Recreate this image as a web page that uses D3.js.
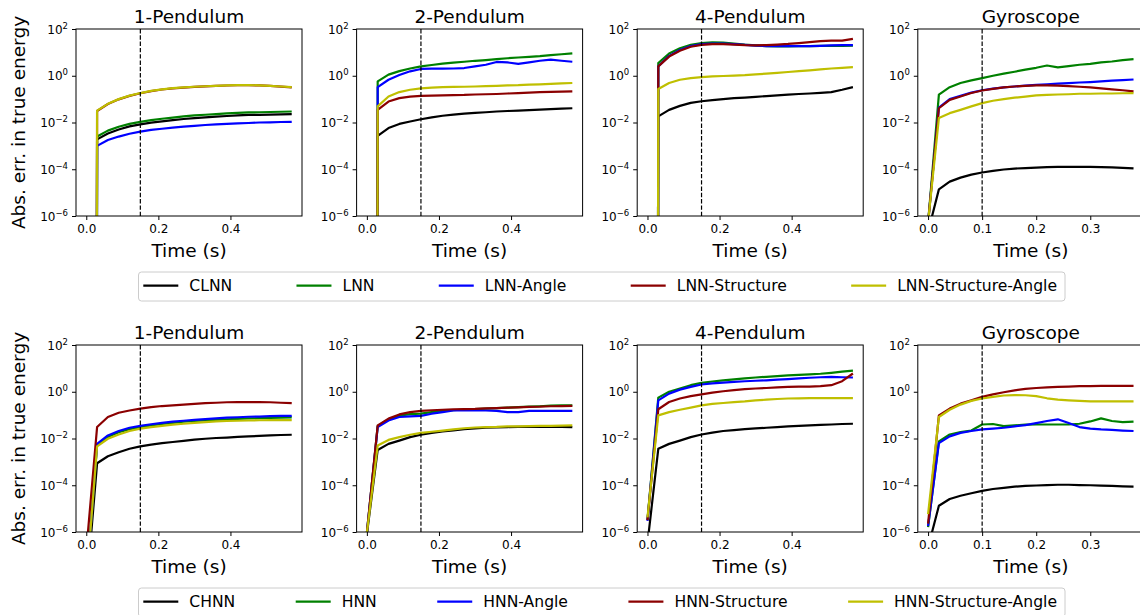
<!DOCTYPE html>
<html>
<head>
<meta charset="utf-8">
<script src="https://cdn.jsdelivr.net/npm/d3@7"></script>
<style>
  body { margin: 0; background: #fff; }
  svg text { font-family: "DejaVu Sans", sans-serif; fill: #000; }
</style>
</head>
<body>
<svg id="chart" width="1140" height="615"></svg>
<script>
// time grids (s)
const pendTime = [0, 0.03, 0.06, 0.09, 0.12, 0.15, 0.18, 0.21, 0.24, 0.27, 0.30, 0.33, 0.36, 0.39, 0.42, 0.45, 0.48, 0.51, 0.54, 0.57];
const gyroTime = [0, 0.02, 0.04, 0.06, 0.08, 0.10, 0.12, 0.14, 0.16, 0.18, 0.20, 0.22, 0.24, 0.26, 0.28, 0.30, 0.32, 0.34, 0.36, 0.38];

const panelTitles = ["1-Pendulum", "2-Pendulum", "4-Pendulum", "Gyroscope"];
const cutoffTimes = [0.15, 0.15, 0.15, 0.1];
const lnnNames = ["CLNN", "LNN", "LNN-Angle", "LNN-Structure", "LNN-Structure-Angle"];
const hnnNames = ["CHNN", "HNN", "HNN-Angle", "HNN-Structure", "HNN-Structure-Angle"];
const seriesColors = ["#000000", "#008000", "#0000ff", "#8b0000", "#bfbf00"];
const pendTicks = [0, 0.2, 0.4];
const gyroTicks = [0, 0.1, 0.2, 0.3];
const yTicks = [1e-6, 1e-4, 1e-2, 1, 1e2];

// abs. error in true energy, one row per series (same order as the names)
const lnnPend1 = [
  [0, 1.9e-3, 3.4e-3, 5.0e-3, 6.8e-3, 8.3e-3, 9.8e-3, 1.12e-2, 1.26e-2, 1.41e-2, 1.55e-2, 1.66e-2, 1.78e-2, 1.9e-2, 2.0e-2, 2.1e-2, 2.14e-2, 2.19e-2, 2.24e-2, 2.29e-2],
  [0, 2.5e-3, 4.5e-3, 6.6e-3, 8.7e-3, 1.07e-2, 1.26e-2, 1.45e-2, 1.62e-2, 1.82e-2, 2.0e-2, 2.14e-2, 2.29e-2, 2.45e-2, 2.57e-2, 2.69e-2, 2.75e-2, 2.82e-2, 2.88e-2, 2.95e-2],
  [0, 1.0e-3, 1.78e-3, 2.5e-3, 3.3e-3, 4.1e-3, 4.8e-3, 5.4e-3, 6.0e-3, 6.6e-3, 7.2e-3, 7.8e-3, 8.3e-3, 8.7e-3, 9.1e-3, 9.5e-3, 1.0e-2, 1.02e-2, 1.05e-2, 1.07e-2],
  [0, 3.1e-2, 6.2e-2, 9.8e-2, 0.138, 0.178, 0.22, 0.258, 0.29, 0.31, 0.333, 0.35, 0.366, 0.383, 0.393, 0.393, 0.384, 0.367, 0.342, 0.32],
  [0, 3.2e-2, 6.3e-2, 0.1, 0.141, 0.182, 0.224, 0.263, 0.295, 0.316, 0.339, 0.355, 0.372, 0.389, 0.398, 0.398, 0.389, 0.372, 0.347, 0.324]
];
const lnnPend2 = [
  [0, 2.7e-3, 5.8e-3, 8.7e-3, 1.1e-2, 1.38e-2, 1.66e-2, 1.95e-2, 2.19e-2, 2.4e-2, 2.57e-2, 2.75e-2, 2.95e-2, 3.1e-2, 3.24e-2, 3.39e-2, 3.55e-2, 3.72e-2, 3.89e-2, 4.07e-2],
  [0, 0.575, 1.12, 1.58, 2.04, 2.51, 2.88, 3.31, 3.63, 3.98, 4.37, 4.68, 5.13, 5.62, 6.03, 6.46, 6.92, 7.59, 8.32, 9.12],
  [0, 0.324, 0.676, 1.07, 1.55, 1.95, 2.0, 2.0, 2.04, 2.14, 2.51, 2.95, 3.89, 3.72, 3.24, 3.72, 4.37, 4.9, 4.37, 3.98],
  [0, 3.5e-2, 7.9e-2, 0.11, 0.129, 0.138, 0.141, 0.145, 0.148, 0.151, 0.158, 0.162, 0.166, 0.174, 0.182, 0.191, 0.2, 0.204, 0.209, 0.214],
  [0, 4.9e-2, 0.129, 0.2, 0.251, 0.288, 0.309, 0.324, 0.331, 0.339, 0.347, 0.363, 0.372, 0.389, 0.398, 0.417, 0.427, 0.447, 0.468, 0.49]
];
const lnnPend4 = [
  [0, 1.82e-2, 3.47e-2, 5.13e-2, 6.92e-2, 8.13e-2, 9.12e-2, 0.1, 0.11, 0.117, 0.126, 0.135, 0.145, 0.155, 0.166, 0.174, 0.186, 0.2, 0.251, 0.324],
  [0, 3.47, 8.91, 15.1, 20.9, 25.1, 26.9, 26.3, 24.0, 21.4, 20.0, 18.6, 18.2, 18.2, 18.6, 18.6, 19.1, 19.1, 19.1, 19.5],
  [0, 2.51, 7.08, 12.6, 18.6, 22.4, 24.0, 24.0, 22.4, 20.9, 19.5, 18.6, 18.6, 18.6, 18.6, 18.6, 19.1, 20.0, 20.4, 20.4],
  [0, 2.51, 6.61, 11.7, 17.4, 20.9, 22.4, 22.4, 21.4, 20.4, 20.0, 20.4, 21.4, 22.9, 25.1, 27.5, 30.2, 31.6, 31.6, 38.0],
  [0, 0.269, 0.49, 0.676, 0.794, 0.871, 0.933, 0.977, 1.02, 1.07, 1.15, 1.23, 1.32, 1.45, 1.58, 1.7, 1.86, 2.04, 2.19, 2.34]
];
const lnnGyro = [
  [2.1e-7, 1.38e-5, 2.95e-5, 4.37e-5, 5.89e-5, 7.24e-5, 8.51e-5, 9.77e-5, 1.07e-4, 1.12e-4, 1.17e-4, 1.23e-4, 1.26e-4, 1.26e-4, 1.26e-4, 1.26e-4, 1.23e-4, 1.2e-4, 1.15e-4, 1.1e-4],
  [5e-7, 0.155, 0.324, 0.49, 0.631, 0.794, 1.0, 1.23, 1.48, 1.82, 2.19, 2.75, 2.29, 2.57, 2.95, 3.24, 3.72, 4.07, 4.68, 5.13],
  [5e-7, 4.37e-2, 0.1, 0.138, 0.191, 0.24, 0.282, 0.316, 0.347, 0.38, 0.407, 0.427, 0.457, 0.479, 0.513, 0.537, 0.575, 0.617, 0.646, 0.692],
  [5e-7, 4.07e-2, 9.33e-2, 0.129, 0.182, 0.234, 0.275, 0.316, 0.347, 0.372, 0.389, 0.389, 0.38, 0.363, 0.339, 0.316, 0.288, 0.263, 0.24, 0.214],
  [5.4e-7, 1.55e-2, 2.51e-2, 3.47e-2, 4.9e-2, 6.76e-2, 8.51e-2, 0.1, 0.115, 0.129, 0.145, 0.151, 0.158, 0.162, 0.17, 0.17, 0.174, 0.174, 0.178, 0.182]
];
const hnnPend1 = [
  [2.7e-9, 8.7e-4, 1.74e-3, 2.57e-3, 3.63e-3, 4.57e-3, 5.5e-3, 6.31e-3, 7.08e-3, 7.94e-3, 8.91e-3, 9.77e-3, 1.05e-2, 1.1e-2, 1.17e-2, 1.23e-2, 1.29e-2, 1.35e-2, 1.41e-2, 1.45e-2],
  [6.3e-9, 5.37e-3, 1.17e-2, 1.86e-2, 2.51e-2, 3.09e-2, 3.63e-2, 4.17e-2, 4.68e-2, 5.25e-2, 5.62e-2, 5.89e-2, 6.31e-2, 6.61e-2, 6.92e-2, 7.24e-2, 7.41e-2, 7.59e-2, 7.76e-2, 7.94e-2],
  [6.3e-9, 5.89e-3, 1.35e-2, 2.09e-2, 2.88e-2, 3.47e-2, 4.07e-2, 4.68e-2, 5.25e-2, 5.75e-2, 6.31e-2, 6.76e-2, 7.24e-2, 7.76e-2, 8.13e-2, 8.51e-2, 8.71e-2, 9.12e-2, 9.33e-2, 9.33e-2],
  [1.5e-7, 3.09e-2, 8.32e-2, 0.126, 0.158, 0.191, 0.219, 0.245, 0.263, 0.282, 0.302, 0.324, 0.339, 0.355, 0.363, 0.363, 0.363, 0.355, 0.339, 0.324],
  [6.3e-9, 4.57e-3, 9.77e-3, 1.48e-2, 2.09e-2, 2.63e-2, 3.09e-2, 3.47e-2, 3.89e-2, 4.27e-2, 4.68e-2, 5.01e-2, 5.37e-2, 5.62e-2, 5.75e-2, 5.89e-2, 6.03e-2, 6.17e-2, 6.17e-2, 6.17e-2]
];
const hnnPend2 = [
  [8e-7, 3.24e-3, 5.89e-3, 8.13e-3, 1.15e-2, 1.45e-2, 1.74e-2, 2.0e-2, 2.24e-2, 2.51e-2, 2.69e-2, 2.88e-2, 3.02e-2, 3.09e-2, 3.16e-2, 3.16e-2, 3.16e-2, 3.16e-2, 3.16e-2, 3.09e-2],
  [9e-7, 3.39e-2, 6.61e-2, 9.55e-2, 0.11, 0.115, 0.135, 0.151, 0.162, 0.174, 0.182, 0.191, 0.2, 0.209, 0.219, 0.229, 0.24, 0.257, 0.263, 0.263],
  [9e-7, 3.09e-2, 5.89e-2, 8.32e-2, 8.91e-2, 9.33e-2, 0.115, 0.135, 0.158, 0.158, 0.158, 0.158, 0.151, 0.135, 0.135, 0.151, 0.151, 0.151, 0.151, 0.151],
  [9e-7, 3.63e-2, 7.08e-2, 0.107, 0.135, 0.151, 0.162, 0.17, 0.178, 0.182, 0.186, 0.195, 0.2, 0.209, 0.214, 0.224, 0.229, 0.24, 0.245, 0.251],
  [9e-7, 5.01e-3, 8.71e-3, 1.15e-2, 1.45e-2, 1.74e-2, 1.95e-2, 2.19e-2, 2.45e-2, 2.75e-2, 2.95e-2, 3.09e-2, 3.16e-2, 3.31e-2, 3.31e-2, 3.39e-2, 3.47e-2, 3.47e-2, 3.55e-2, 3.63e-2]
];
const hnnPend4 = [
  [3.2e-7, 3.63e-3, 5.89e-3, 8.13e-3, 1.15e-2, 1.48e-2, 1.78e-2, 2.09e-2, 2.29e-2, 2.51e-2, 2.69e-2, 2.88e-2, 3.09e-2, 3.31e-2, 3.47e-2, 3.63e-2, 3.8e-2, 3.98e-2, 4.17e-2, 4.27e-2],
  [3.2e-6, 0.562, 1.0, 1.38, 1.91, 2.4, 2.75, 3.09, 3.39, 3.72, 4.07, 4.37, 4.68, 5.01, 5.25, 5.5, 5.89, 6.46, 7.24, 7.94],
  [3.0e-6, 0.427, 0.832, 1.23, 1.62, 2.04, 2.29, 2.45, 2.63, 2.82, 2.95, 3.09, 3.31, 3.47, 3.72, 3.98, 4.17, 4.37, 4.17, 4.07],
  [3.2e-6, 0.178, 0.363, 0.513, 0.646, 0.776, 0.912, 1.05, 1.17, 1.29, 1.38, 1.45, 1.55, 1.62, 1.66, 1.66, 1.74, 1.91, 2.82, 6.03],
  [4.2e-6, 9.77e-2, 0.135, 0.17, 0.209, 0.263, 0.302, 0.331, 0.363, 0.389, 0.427, 0.457, 0.49, 0.513, 0.525, 0.537, 0.537, 0.537, 0.537, 0.537]
];
const hnnGyro = [
  [2.2e-7, 1.32e-5, 2.57e-5, 3.55e-5, 4.57e-5, 5.75e-5, 6.92e-5, 7.76e-5, 8.71e-5, 9.33e-5, 9.77e-5, 1.02e-4, 1.05e-4, 1.05e-4, 1.02e-4, 1.0e-4, 9.55e-5, 9.33e-5, 8.91e-5, 8.71e-5],
  [1.6e-6, 7.41e-3, 1.48e-2, 1.86e-2, 2.19e-2, 3.98e-2, 4.17e-2, 3.39e-2, 3.63e-2, 3.89e-2, 3.98e-2, 3.98e-2, 3.98e-2, 3.98e-2, 4.27e-2, 5.37e-2, 7.24e-2, 5.62e-2, 5.01e-2, 5.25e-2],
  [1.8e-6, 6.31e-3, 1.23e-2, 1.74e-2, 2.09e-2, 2.45e-2, 2.63e-2, 2.88e-2, 3.31e-2, 3.72e-2, 4.57e-2, 5.62e-2, 6.61e-2, 4.57e-2, 3.09e-2, 2.63e-2, 2.45e-2, 2.34e-2, 2.19e-2, 2.09e-2],
  [2.3e-6, 9.77e-2, 0.191, 0.309, 0.427, 0.603, 0.776, 0.955, 1.15, 1.32, 1.45, 1.55, 1.62, 1.66, 1.74, 1.74, 1.78, 1.78, 1.78, 1.78],
  [5.8e-6, 8.32e-2, 0.17, 0.282, 0.407, 0.513, 0.603, 0.692, 0.724, 0.708, 0.646, 0.525, 0.457, 0.427, 0.407, 0.389, 0.389, 0.389, 0.389, 0.389]
];

const svg = d3.select("#chart");
const panelLeft = [76, 356.6, 637.2, 917.8];
const panelW = 226, panelH = 187;
const rows = [
  { names: lnnNames, panels: [lnnPend1, lnnPend2, lnnPend4, lnnGyro], top: 29, legendTop: 272 },
  { names: hnnNames, panels: [hnnPend1, hnnPend2, hnnPend4, hnnGyro], top: 345, legendTop: 588 }
];

rows.forEach((row, r) => {
  row.panels.forEach((series, c) => {
    const time = c === 3 ? gyroTime : pendTime;
    const pad = (d3.max(time) - d3.min(time)) * 0.05;
    const x = d3.scaleLinear().domain([d3.min(time) - pad, d3.max(time) + pad]).range([0, panelW]);
    const y = d3.scaleLog().domain([1e-6, 1e2]).range([panelH, 0]);

    const g = svg.append("g").attr("transform", `translate(${panelLeft[c]},${row.top})`);
    const clipId = `clip-${r}-${c}`;
    g.append("clipPath").attr("id", clipId)
      .append("rect").attr("width", panelW).attr("height", panelH);

    // zero errors get clipped to a tiny value, like matplotlib does on log axes
    const line = d3.line()
      .x((d, i) => x(time[i]))
      .y(d => y(Math.max(d, 1e-300)));

    const plot = g.append("g").attr("clip-path", `url(#${clipId})`);
    plot.selectAll("path.series")
      .data(series)
      .join("path")
      .attr("class", "series")
      .attr("d", line)
      .attr("fill", "none")
      .attr("stroke", (d, i) => seriesColors[i])
      .attr("stroke-width", 2.2)
      .attr("stroke-linejoin", "round");

    plot.append("line")
      .attr("x1", x(cutoffTimes[c])).attr("x2", x(cutoffTimes[c]))
      .attr("y1", 0).attr("y2", panelH)
      .attr("stroke", "#000")
      .attr("stroke-width", 1.2)
      .attr("stroke-dasharray", "4.4,1.9");

    g.append("rect")
      .attr("width", panelW).attr("height", panelH)
      .attr("fill", "none").attr("stroke", "#000").attr("stroke-width", 1);

    const gx = g.append("g")
      .attr("transform", `translate(0,${panelH})`)
      .call(d3.axisBottom(x)
        .tickValues(c === 3 ? gyroTicks : pendTicks)
        .tickSize(4).tickPadding(4)
        .tickFormat(d3.format(".1f")));
    gx.select(".domain").remove();
    gx.selectAll("text").attr("font-size", 12).attr("font-family", "DejaVu Sans").attr("dy", "0.72em");

    const gy = g.append("g")
      .call(d3.axisLeft(y).tickValues(yTicks).tickSize(4).tickFormat(() => ""));
    gy.select(".domain").remove();
    const lab = gy.selectAll(".tick").append("text")
      .attr("x", -8).attr("y", 4)
      .attr("text-anchor", "end")
      .attr("font-size", 12)
      .attr("font-family", "DejaVu Sans");
    lab.append("tspan").text("10");
    lab.append("tspan")
      .attr("font-size", 8.5)
      .attr("dy", -5)
      .text(d => String(Math.round(Math.log10(d))).replace("-", "\u2212"));

    g.append("text")
      .attr("x", panelW / 2).attr("y", -6)
      .attr("text-anchor", "middle")
      .attr("font-size", 18.5)
      .text(panelTitles[c]);

    g.append("text")
      .attr("x", panelW / 2).attr("y", panelH + 41)
      .attr("text-anchor", "middle")
      .attr("font-size", 18.5)
      .text("Time (s)");
  });

  svg.append("text")
    .attr("transform", `translate(25,${row.top + panelH / 2}) rotate(-90)`)
    .attr("text-anchor", "middle")
    .attr("font-size", 18.5)
    .text("Abs. err. in true energy");

  drawLegend(row.names, row.legendTop);
});

function drawLegend(names, top) {
  const boxX = 138.5, boxW = 926.5, boxH = 29;
  const startX = 143.3, endX = 1057, handleLen = 35, textGap = 11;
  const g = svg.append("g");
  g.append("rect")
    .attr("x", boxX).attr("y", top).attr("width", boxW).attr("height", boxH)
    .attr("rx", 3).attr("fill", "#fff").attr("stroke", "#cccccc").attr("stroke-width", 1);

  const items = g.selectAll("g.item").data(names).join("g").attr("class", "item");
  items.append("line")
    .attr("x1", 0).attr("x2", handleLen)
    .attr("y1", 13.7).attr("y2", 13.7)
    .attr("stroke", (d, i) => seriesColors[i])
    .attr("stroke-width", 2.2);
  items.append("text")
    .attr("x", handleLen + textGap).attr("y", 18.7)
    .attr("font-size", 15.6)
    .text(d => d);

  const widths = [];
  items.select("text").each(function() { widths.push(this.getComputedTextLength()); });
  const used = d3.sum(widths) + names.length * (handleLen + textGap);
  const gap = (endX - startX - used) / (names.length - 1);
  let cx = startX;
  items.attr("transform", (d, i) => {
    const t = `translate(${cx},${top})`;
    cx += handleLen + textGap + widths[i] + gap;
    return t;
  });
}
</script>
</body>
</html>
